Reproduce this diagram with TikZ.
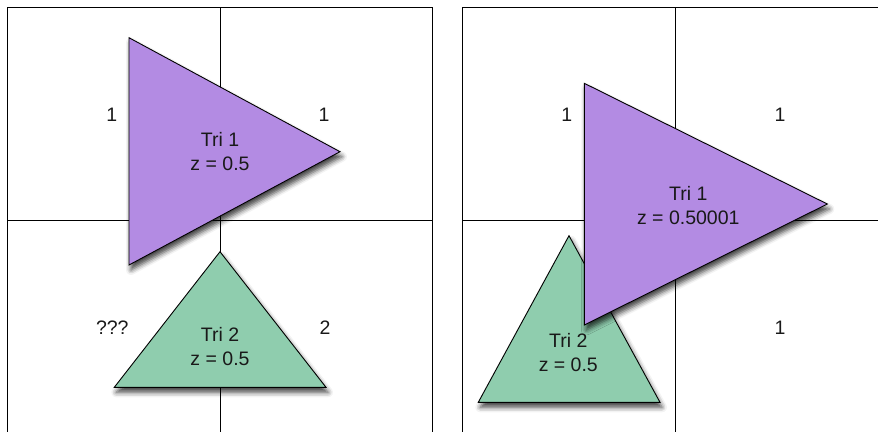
\documentclass[tikz,border=0pt]{standalone}
\usepackage{fontspec}
\setmainfont{Liberation Sans}
\usetikzlibrary{shadows.blur}
\definecolor{tripurple}{RGB}{179,139,227}
\definecolor{trigreen}{RGB}{143,205,174}
\begin{document}
\begin{tikzpicture}[x=1pt,y=-1pt,
  gridline/.style={line width=1pt, black},
  tri/.style={draw=black, line width=0.9pt, line join=miter,
    blur shadow={shadow xshift=2pt, shadow yshift=-5pt, shadow blur radius=5pt, shadow opacity=75}},
  txt/.style={font=\fontsize{19.5}{24}\selectfont, inner sep=0pt, align=center, text=black!90}]
\useasboundingbox (0,0) rectangle (878,431);
\clip (0,0) rectangle (878,431);
% ---------- left panel grid ----------
\coordinate (LTL) at (7.5,7.5);
\coordinate (LBR) at (432.7,432.5);
\draw[gridline] (LTL) rectangle (LBR);
\draw[gridline] (220,7.5) -- (220,440);
\draw[gridline] (7.5,220) -- (432.7,220);
% left triangles
\path[tri, fill=tripurple] (129,37.7) -- (340,151.7) -- (129,265) -- cycle;
\path[tri, fill=trigreen] (220,251.7) -- (326,387.3) -- (114.3,387.3) -- cycle;
\node[txt] (lt1) at (220,152) {Tri 1\\z = 0.5};
\node[txt] (lt2) at (220,347) {Tri 2\\z = 0.5};
\node[txt] (l1a) at (111.7,115) {1};
\node[txt] (l1b) at (324,115) {1};
\node[txt] (l1c) at (112.3,328) {???};
\node[txt] (l1d) at (325,328) {2};
% ---------- right panel grid ----------
\draw[gridline] (462.7,440) -- (462.7,7.3) -- (890,7.3);
\draw[gridline] (675.7,7.3) -- (675.7,440);
\draw[gridline] (462.7,220) -- (890,220);
% right triangles
\path[tri, fill=trigreen] (569,235.7) -- (660,402.3) -- (478.3,402.3) -- cycle;
\path[tri, fill=tripurple] (584.3,83.3) -- (827.3,204) -- (584.3,325) -- cycle;
\node[txt] (rt1) at (688.3,206) {Tri 1\\z = 0.50001};
\node[txt] (rt2) at (568.3,352.5) {Tri 2\\z = 0.5};
\node[txt] (r1a) at (566.7,115) {1};
\node[txt] (r1b) at (780,115) {1};
\node[txt] (r1c) at (780,328) {1};
\end{tikzpicture}
\end{document}
